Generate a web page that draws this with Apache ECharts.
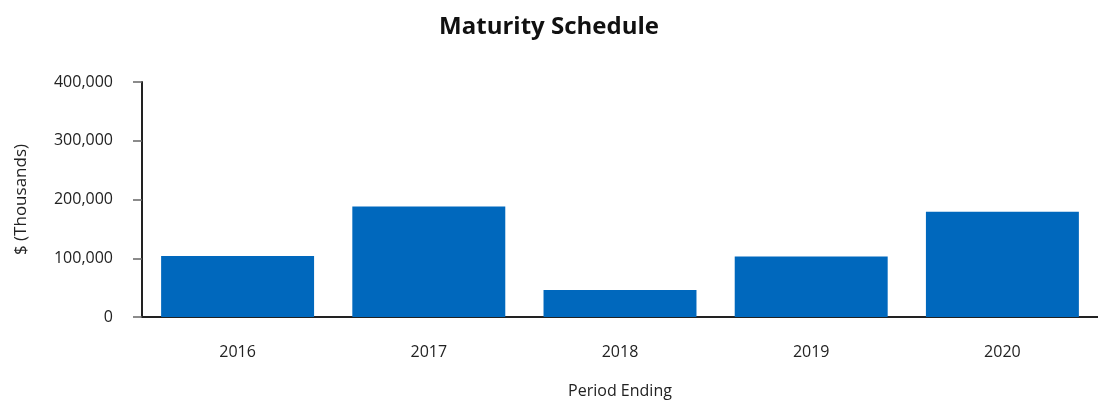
<!DOCTYPE html>
<html><head><meta charset="utf-8">
<script src="https://cdn.jsdelivr.net/npm/echarts@6/dist/echarts.min.js"></script>
<style>html,body{margin:0;padding:0;background:#fff}#c{width:1098px;height:405px}</style>
</head><body><div id="c"></div>
<script>
const categories = ['2016', '2017', '2018', '2019', '2020'];
const values = [104000, 188000, 46000, 103000, 179000];
const yTicks = [0, 100000, 200000, 300000, 400000];

const chart = echarts.init(document.getElementById('c'));
const font = 'Open Sans';
chart.setOption({
  animation: false,
  title: {
    text: 'Maturity Schedule', left: 'center', top: 10,
    textStyle: { fontFamily: font, fontSize: 24, fontWeight: 'bold', color: '#111' }
  },
  grid: { left: 142, right: 0, top: 82, bottom: 88 },
  xAxis: {
    type: 'category', data: categories,
    name: 'Period Ending', nameLocation: 'middle', nameGap: 66,
    nameTextStyle: { fontFamily: font, fontSize: 16, color: '#222' },
    axisLine: { lineStyle: { color: '#222', width: 2 } },
    axisTick: { alignWithLabel: true, length: 9, lineStyle: { color: '#666', width: 1.5 } },
    axisLabel: { margin: 27, fontFamily: font, fontSize: 16, color: '#222' }
  },
  yAxis: {
    type: 'value', min: yTicks[0], max: yTicks[yTicks.length - 1], interval: 100000,
    name: '$ (Thousands)', nameLocation: 'middle', nameGap: 112,
    nameTextStyle: { fontFamily: font, fontSize: 17, color: '#222' },
    axisLine: { show: true, lineStyle: { color: '#222', width: 2 } },
    axisTick: { show: true, length: 9, lineStyle: { color: '#666', width: 1.5 } },
    splitLine: { show: false },
    axisLabel: {
      margin: 29, fontFamily: font, fontSize: 16, color: '#222',
      formatter: v => v.toLocaleString('en-US')
    }
  },
  series: [{
    type: 'bar', data: values, barCategoryGap: '20%',
    itemStyle: { color: '#0068BD' }
  }]
});
</script></body></html>
